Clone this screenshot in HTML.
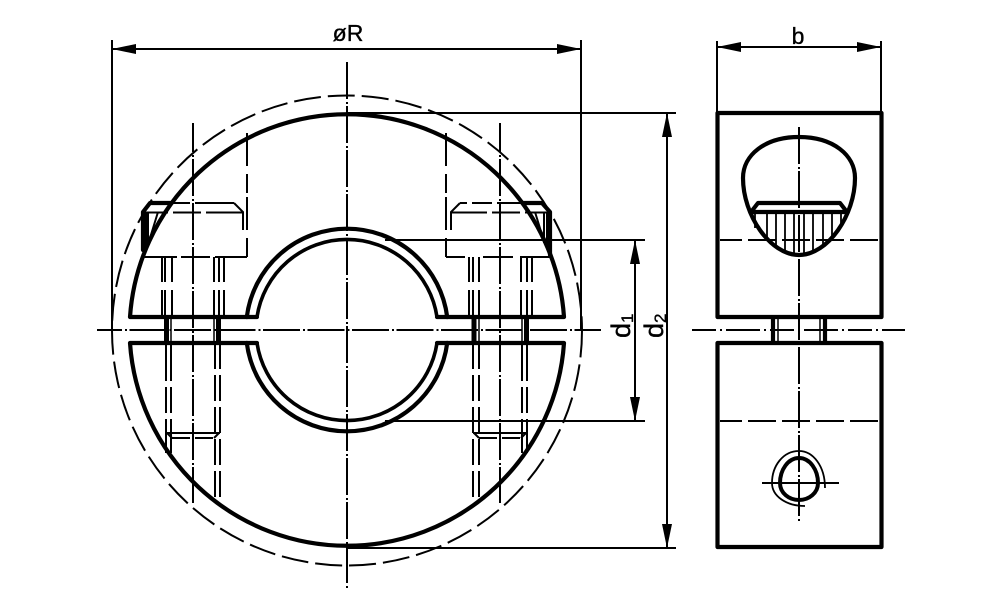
<!DOCTYPE html>
<html>
<head>
<meta charset="utf-8">
<style>
html,body{margin:0;padding:0;background:#fff}
svg{display:block}
text{font-family:"Liberation Sans",sans-serif;fill:#000;stroke:#000;stroke-width:.35}
</style>
</head>
<body>
<svg width="1000" height="611" viewBox="0 0 1000 611" xmlns="http://www.w3.org/2000/svg">
<rect width="1000" height="611" fill="#fff"/>
<g fill="none" stroke="#000" stroke-width="2">
  <!-- outer dashed circle -->
  <circle cx="347" cy="330.5" r="235" stroke-dasharray="27 7"/>

  <!-- centre lines -->
  <path d="M347,62V590" stroke-dasharray="37 3 2 2"/>
  <path d="M97,330H600" stroke-dasharray="37 3 2 2.500" stroke-dashoffset="12"/>
  <path d="M193,123V503" stroke-dasharray="37 3 2 2" stroke-dashoffset="8"/>
  <path d="M500,123V503" stroke-dasharray="37 3 2 2" stroke-dashoffset="8"/>
  <path d="M799,125V522" stroke-dasharray="37 3 2 2" stroke-dashoffset="42"/>
  <path d="M692,330H905" stroke-dasharray="24 4 2 4 34 4 2 4"/>
  <path d="M762,483H839"/>

  <!-- dimension lines -->
  <path d="M112,40V330M581,40V330M581,330H601"/>
  <path d="M112,49H581"/>
  <path d="M717,41V113M881,41V113M717,47H881"/>
  <path d="M347,113H676M347,548H676"/>
  <path d="M385,240H645M385,421H645"/>
  <path d="M635,240V421M667,113V548"/>

  <!-- left bolt hidden lines -->
  <path d="M247,257V130" stroke-dasharray="19 8 33 4"/>
  <path d="M170,203H234" stroke-dasharray="20 5 40"/>
  <path d="M234,203L243,212V230"/>
  <path d="M143,212.500H243" stroke-dasharray="25 5 28 5 40"/>
  <path d="M144,257H247" stroke-dasharray="33 4 29 5 32"/>
  <path d="M162,257V317M165,257V317M172,257V317M214,257V317M219,257V317M224,257V317" stroke-dasharray="25 8"/>
  <path d="M166,343V453M171,343V453" stroke-dasharray="38 6 26 6"/>
  <path d="M215,343V503M220,343V503" stroke-dasharray="26 6"/>
  <path d="M166,433H220"/>
  <path d="M172,438H214" stroke-dasharray="18 5"/>
  <path d="M167,433L172,438M219,433L214,438"/>
  <path d="M146,212V248M148,212V243M158,212L150,238"/>

  <!-- right bolt hidden lines -->
  <path d="M446,257V130" stroke-dasharray="19 8 33 4"/>
  <path d="M523,203H460" stroke-dasharray="26 5 20 5 60"/>
  <path d="M460,203L451,212V230"/>
  <path d="M550,212.500H451" stroke-dasharray="25 5 28 5 40"/>
  <path d="M446,257H550" stroke-dasharray="19 18 30 7 30"/>
  <path d="M469,257V317M473,257V317M479,257V317M521,257V317M527,257V317M532,257V317" stroke-dasharray="25 8"/>
  <path d="M473,343V503M479,343V503" stroke-dasharray="26 6"/>
  <path d="M522,343V453M527,343V453" stroke-dasharray="38 6 26 6"/>
  <path d="M473,433H527"/>
  <path d="M479,438H521" stroke-dasharray="18 5"/>
  <path d="M474,433L479,438M526,433L521,438"/>
  <path d="M547,212V248M544,212V243M535,212L543,238"/>

  <!-- thick main outline -->
  <g stroke-width="4.200" stroke-linejoin="round" stroke-linecap="round">
    <path d="M247,317H130A217.500,217.500 0 0 1 564,317H447"/>
    <path d="M247,343H130A217.500,217.500 0 0 0 564,343H447"/>
    <path d="M246.800,317A101,101 0 0 1 447.200,317"/>
    <path d="M246.800,343A101,101 0 0 0 447.200,343"/>
    <path d="M247,317H257M437,317H447M247,343H257M437,343H447"/>
    <path d="M143,250V212L150,203H170"/>
    <path d="M523,203H542L550,212V255"/>
  </g>
  <g stroke-width="3.600">
    <path d="M257,317A91,91 0 0 1 437,317"/>
    <path d="M257,343A91,91 0 0 0 437,343"/>
  </g>
  <!-- bolts in gap -->
  <path d="M166.500,317V343M218.500,317V343M474,317V343M526.500,317V343" stroke-width="5"/>
  <path d="M171,317V343M214,317V343M479,317V343M522,317V343" stroke-width="1.500"/>

  <!-- right view -->
  <g stroke-width="4.200" stroke-linejoin="round">
    <rect x="717.500" y="113" width="164" height="204"/>
    <rect x="717.500" y="343" width="164" height="204"/>
    <path d="M799,137C765,137 743,155 743,178C743,215 770,255 799,255C828,255 855,215 855,178C855,155 833,137 799,137Z"/>
    <path d="M751,212L758,203H840L847,212Z"/>
    <path d="M773,317V343M825,317V343"/>
  </g>
  <path d="M778,317V343M820,317V343" stroke-width="1.500"/>
  <path d="M755,212V228M767,212V240M776,212V247M785,212V252M794,212V254M804,212V254M813,212V252M823,212V247M832,212V240M841,212V228" stroke-width="1.800"/>
  <path d="M720,240H881M720,421H881" stroke-dasharray="22 6 28 6 28 6 28 6 28 6 22"/>

  <!-- small hole -->
  <path d="M799,458C788,458 780,470 780,483C780,493 789,500 799,500C809,500 818,493 818,483C818,470 810,458 799,458Z" stroke-width="4"/>
  <path d="M825,488C825,466 813,451 799,451C783,451 772,466 772,483C772,496 786,506 805,506" stroke-width="1.800"/>
</g>

<!-- arrowheads -->
<g fill="#000">
  <path d="M112,49L136,44V54Z"/>
  <path d="M581,49L557,44V54Z"/>
  <path d="M717,47L741,42V52Z"/>
  <path d="M881,47L857,42V52Z"/>
  <path d="M635,240L630,264H640Z"/>
  <path d="M635,421L630,397H640Z"/>
  <path d="M667,113L662,137H672Z"/>
  <path d="M667,548L662,524H672Z"/>
</g>

<!-- labels -->
<text x="348" y="41" font-size="23" text-anchor="middle">øR</text>
<text x="798" y="44" font-size="23" text-anchor="middle">b</text>
<text transform="translate(630,338) rotate(-90)" font-size="27">d<tspan font-size="17" dy="3">1</tspan></text>
<text transform="translate(663,338) rotate(-90)" font-size="27">d<tspan font-size="17" dy="3">2</tspan></text>
</svg>
</body>
</html>
